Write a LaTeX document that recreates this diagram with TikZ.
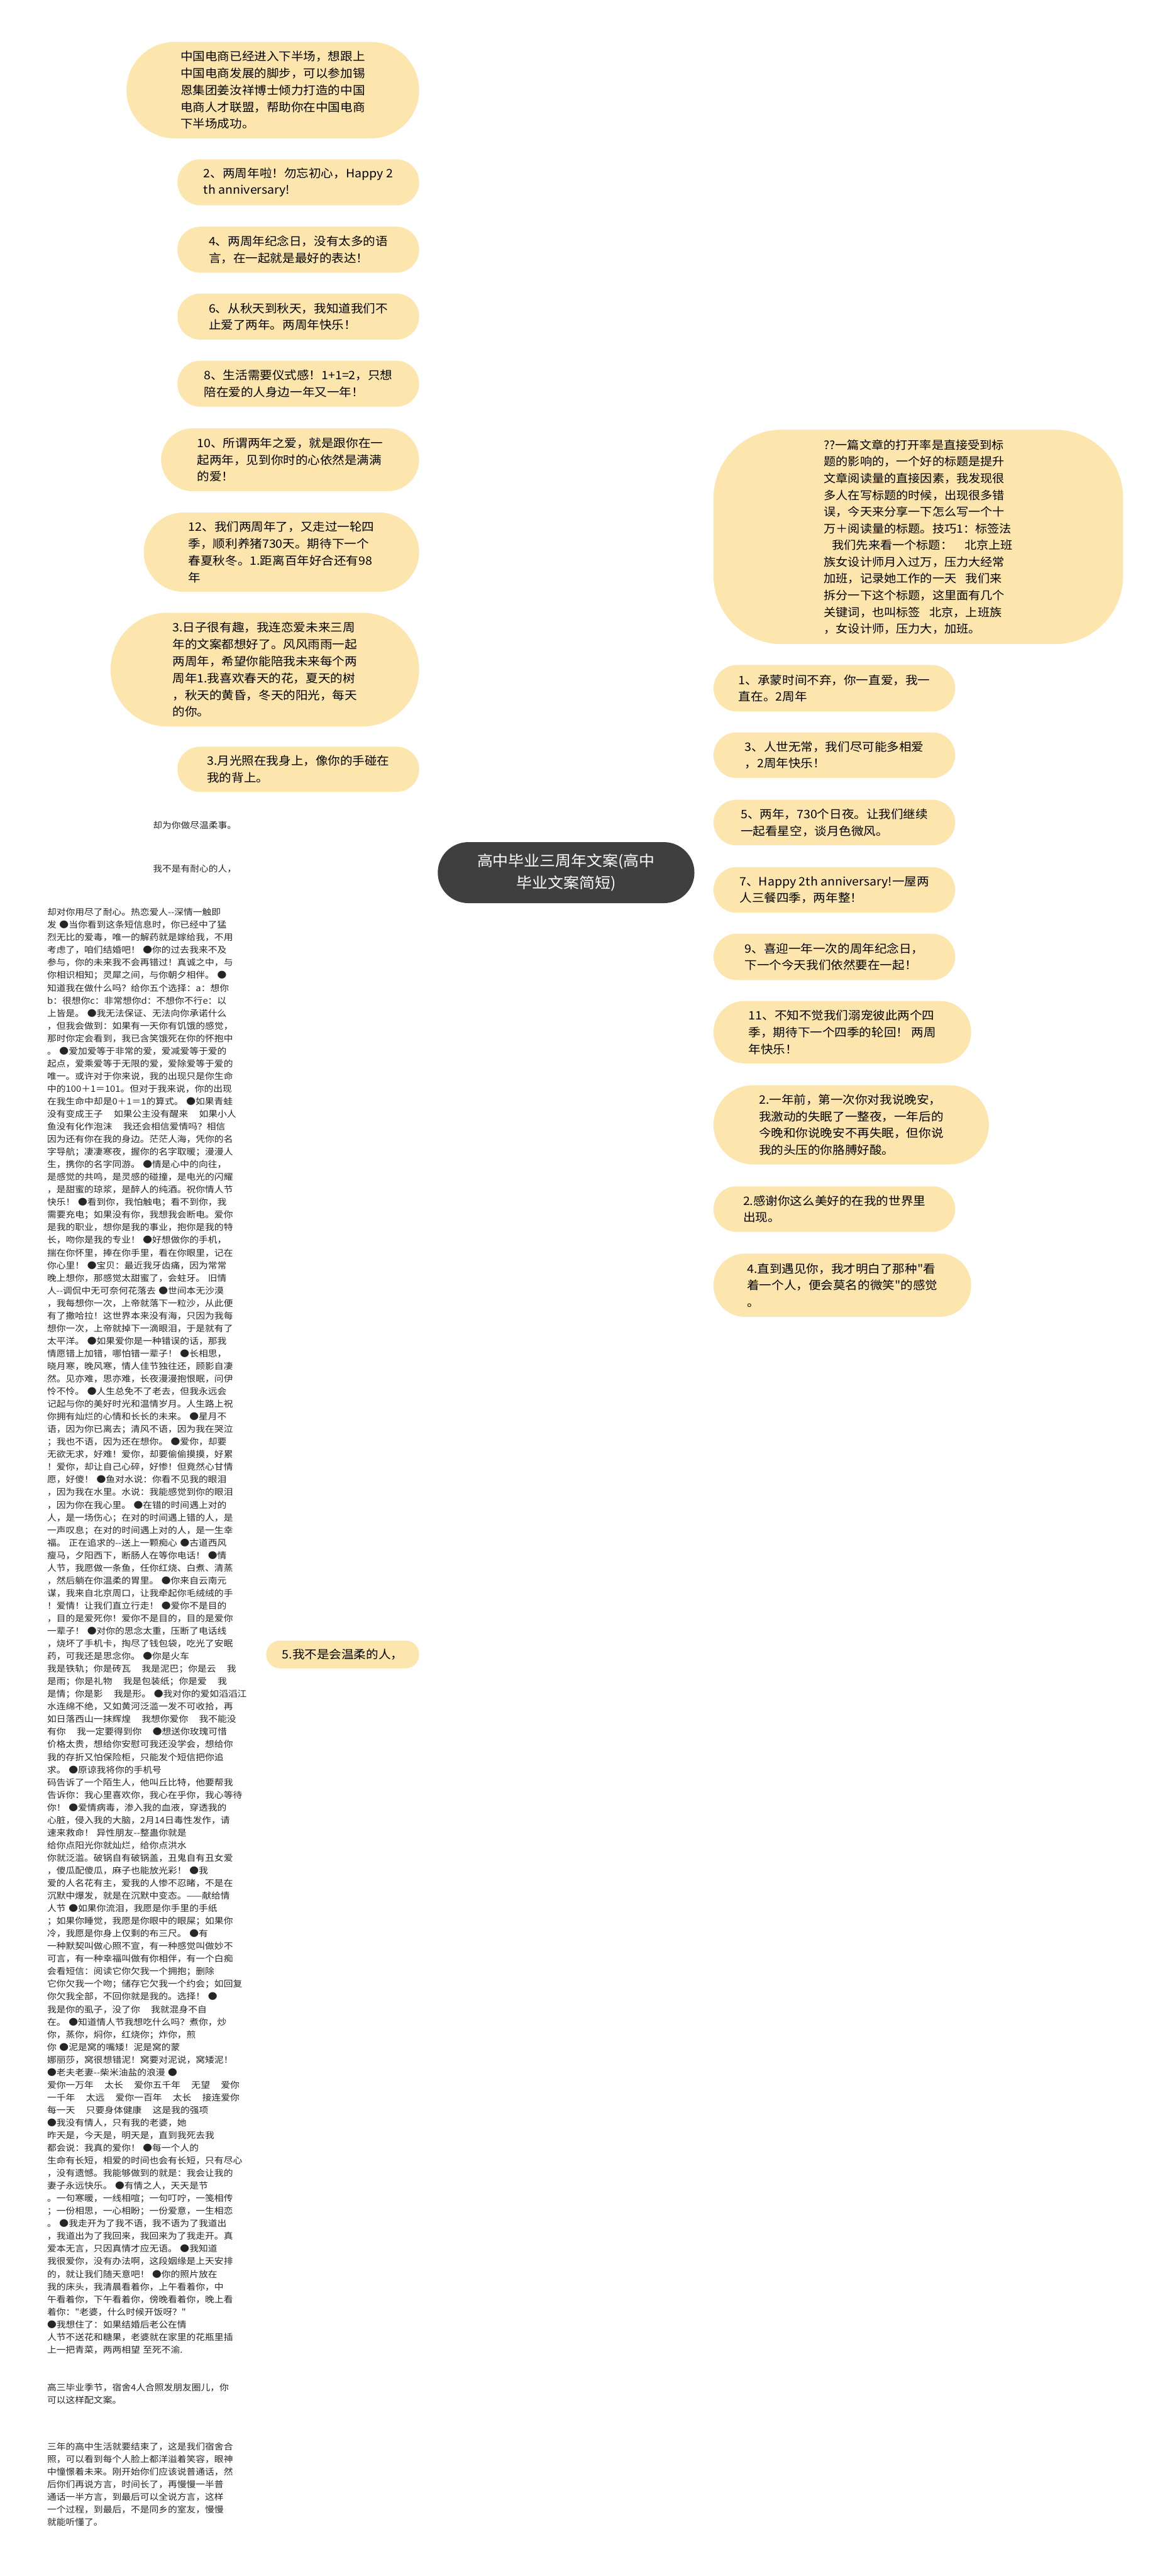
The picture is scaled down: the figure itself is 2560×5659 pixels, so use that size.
\documentclass[tikz,border=0pt]{standalone}
\usepackage{fontspec}
\newfontfamily\cjkA{Noto Sans CJK SC}[FakeStretch=1.06]
\newfontfamily\cjkB{Noto Sans CJK SC}[FakeStretch=1.074]
\usetikzlibrary{calc,backgrounds}
\definecolor{leaf}{HTML}{FDE6AE}
\definecolor{ctr}{HTML}{3F3F3F}
\definecolor{ln}{HTML}{333333}
\newcommand\dd{-\kern0pt-}
\newcommand\gp{\hspace*{24pt}}
\tikzset{
  conn/.style={draw=ln, line width=3pt},
  leafbox/.style={fill=leaf, draw=none, align=left, inner sep=0pt,
    font=\cjkA\fontsize{25.5}{37}\selectfont, text=black},
  ctrbox/.style={fill=ctr, draw=none, align=center, inner sep=0pt,
    font=\cjkA\fontsize{32.5}{48}\selectfont, text=white},
  shorttext/.style={inner xsep=25pt, inner ysep=4pt,
    font=\cjkB\fontsize{19}{27.7}\selectfont, text=black!85},
  longtext/.style={align=left, text width=441pt, inner sep=0pt,
    font=\cjkB\fontsize{19}{27.7}\selectfont, text=black!85}
}
\newcommand\qconn[2]{%
  \coordinate (qq) at (#1 |- #2);
  \draw[conn] (#1) .. controls ($(#1)!0.6667!(qq)$) and ($(#2)!0.6667!(qq)$) .. (#2);}
\begin{document}
\begin{tikzpicture}[x=1pt,y=-1pt]
\useasboundingbox (0,0) rectangle (2560,5659);
\fill[white] (0,0) rectangle (2560,5659);

% centre
\node[ctrbox, minimum width=564pt, minimum height=134pt, rounded corners=67pt] (c) at (1244,1917)
  {高中毕业三周年文案(高中\\毕业文案简短)};

% left branch nodes
\node[leafbox, minimum width=643pt, minimum height=212pt, rounded corners=106pt] (n1) at (599.5,198)
  {中国电商已经进入下半场，想跟上\\中国电商发展的脚步，可以参加锡\\恩集团姜汝祥博士倾力打造的中国\\电商人才联盟，帮助你在中国电商\\下半场成功。};
\node[leafbox, minimum width=531pt, minimum height=101pt, rounded corners=50pt] (n2) at (655.5,400.5)
  {2、两周年啦！勿忘初心，Happy 2\\th anniversary!};
\node[leafbox, minimum width=531pt, minimum height=101pt, rounded corners=50pt] (n4) at (655.5,548.5)
  {4、两周年纪念日，没有太多的语\\言，在一起就是最好的表达！};
\node[leafbox, minimum width=531pt, minimum height=101pt, rounded corners=50pt] (n6) at (655.5,695.5)
  {6、从秋天到秋天，我知道我们不\\止爱了两年。两周年快乐！};
\node[leafbox, minimum width=531pt, minimum height=101pt, rounded corners=50pt] (n8) at (655.5,843)
  {8、生活需要仪式感！1+1=2，只想\\陪在爱的人身边一年又一年！};
\node[leafbox, minimum width=567pt, minimum height=138pt, rounded corners=69pt] (n10) at (637.5,1010)
  {10、所谓两年之爱，就是跟你在一\\起两年，见到你时的心依然是满满\\的爱！};
\node[leafbox, minimum width=605pt, minimum height=174pt, rounded corners=87pt] (n12) at (618.5,1213)
  {12、我们两周年了，又走过一轮四\\季，顺利养猪730天。期待下一个\\春夏秋冬。1.距离百年好合还有98\\年};
\node[leafbox, minimum width=678pt, minimum height=250pt, rounded corners=125pt] (n3a) at (582,1471)
  {3.日子很有趣，我连恋爱未来三周\\年的文案都想好了。风风雨雨一起\\两周年，希望你能陪我未来每个两\\周年1.我喜欢春天的花，夏天的树\\，秋天的黄昏，冬天的阳光，每天\\的你。};
\node[leafbox, minimum width=531pt, minimum height=99pt, rounded corners=49pt] (n3b) at (655.5,1690)
  {3.月光照在我身上，像你的手碰在\\我的背上。};

% right branch nodes
\node[leafbox, minimum width=900pt, minimum height=471pt, rounded corners=150pt,
  font=\cjkA\fontsize{25}{36.7}\selectfont] (rb) at (2018,1179.5)
  {??一篇文章的打开率是直接受到标\\题的影响的，一个好的标题是提升\\文章阅读量的直接因素，我发现很\\多人在写标题的时候，出现很多错\\误，今天来分享一下怎么写一个十\\万＋阅读量的标题。技巧1：标签法\\\hspace*{18pt}我们先来看一个标题：\hspace{26pt}北京上班\\族女设计师月入过万，压力大经常\\加班，记录她工作的一天\hspace{20pt}我们来\\拆分一下这个标题，这里面有几个\\关键词，也叫标签\hspace{20pt}北京，上班族\\，女设计师，压力大，加班。};
\node[leafbox, minimum width=531pt, minimum height=102pt, rounded corners=51pt] (r1) at (1833.5,1512)
  {1、承蒙时间不弃，你一直爱，我一\\直在。2周年};
\node[leafbox, minimum width=531pt, minimum height=100pt, rounded corners=50pt] (r3) at (1833.5,1659)
  {3、人世无常，我们尽可能多相爱\\，2周年快乐！};
\node[leafbox, minimum width=531pt, minimum height=100pt, rounded corners=50pt] (r5) at (1833.5,1807)
  {5、两年，730个日夜。让我们继续\\一起看星空，谈月色微风。};
\node[leafbox, minimum width=531pt, minimum height=100pt, rounded corners=50pt] (r7) at (1833.5,1955)
  {7、Happy 2th anniversary!一屋两\\人三餐四季，两年整！};
\node[leafbox, minimum width=531pt, minimum height=102pt, rounded corners=51pt] (r9) at (1833.5,2102)
  {9、喜迎一年一次的周年纪念日，\\下一个今天我们依然要在一起！};
\node[leafbox, minimum width=566pt, minimum height=137pt, rounded corners=68pt] (r11) at (1851,2267.5)
  {11、不知不觉我们溺宠彼此两个四\\季，期待下一个四季的轮回！ 两周\\年快乐！};
\node[leafbox, minimum width=605pt, minimum height=174pt, rounded corners=87pt] (r2) at (1870.5,2471)
  {2.一年前，第一次你对我说晚安，\\我激动的失眠了一整夜，一年后的\\今晚和你说晚安不再失眠，但你说\\我的头压的你胳膊好酸。};
\node[leafbox, minimum width=531pt, minimum height=100pt, rounded corners=50pt] (r2b) at (1833.5,2656)
  {2.感谢你这么美好的在我的世界里\\出现。};
\node[leafbox, minimum width=566pt, minimum height=139pt, rounded corners=69pt] (r4) at (1851,2823.5)
  {4.直到遇见你，我才明白了那种"看\\着一个人，便会莫名的微笑"的感觉\\。};

% lower left branch
\node[leafbox, minimum width=336pt, minimum height=61pt, rounded corners=30pt] (n5) at (753,3634.5)
  {5.我不是会温柔的人，};
\coordinate (j5) at (562,3634.5);

\node[shorttext, anchor=east] (k1) at (545,1813) {却为你做尽温柔事。};
\node[shorttext, anchor=east] (k2) at (545,1908) {我不是有耐心的人，};
\node[longtext, anchor=east] (k3) at (545,3583) {却对你用尽了耐心。热恋爱人\dd 深情一触即\\发 ●当你看到这条短信息时，你已经中了猛\\烈无比的爱毒，唯一的解药就是嫁给我，不用\\考虑了，咱们结婚吧！ ●你的过去我来不及\\参与，你的未来我不会再错过！真诚之中，与\\你相识相知；灵犀之间，与你朝夕相伴。 ●\\知道我在做什么吗？给你五个选择：a：想你\\b：很想你c：非常想你d：不想你不行e：以\\上皆是。 ●我无法保证、无法向你承诺什么\\，但我会做到：如果有一天你有饥饿的感觉，\\那时你定会看到，我已含笑饿死在你的怀抱中\\。 ●爱加爱等于非常的爱，爱减爱等于爱的\\起点，爱乘爱等于无限的爱，爱除爱等于爱的\\唯一。或许对于你来说，我的出现只是你生命\\中的100＋1＝101。但对于我来说，你的出现\\在我生命中却是0＋1＝1的算式。 ●如果青蛙\\没有变成王子\gp 如果公主没有醒来\gp 如果小人\\鱼没有化作泡沫\gp 我还会相信爱情吗？相信\\因为还有你在我的身边。茫茫人海，凭你的名\\字导航；凄凄寒夜，握你的名字取暖；漫漫人\\生，携你的名字同游。 ●情是心中的向往，\\是感觉的共鸣，是灵感的碰撞，是电光的闪耀\\，是甜蜜的琼浆，是醉人的纯酒。祝你情人节\\快乐！ ●看到你，我怕触电；看不到你，我\\需要充电；如果没有你，我想我会断电。爱你\\是我的职业，想你是我的事业，抱你是我的特\\长，吻你是我的专业！ ●好想做你的手机，\\揣在你怀里，捧在你手里，看在你眼里，记在\\你心里！ ●宝贝：最近我牙齿痛，因为常常\\晚上想你，那感觉太甜蜜了，会蛀牙。 旧情\\人\dd 调侃中无可奈何花落去 ●世间本无沙漠\\，我每想你一次，上帝就落下一粒沙，从此便\\有了撒哈拉！这世界本来没有海，只因为我每\\想你一次，上帝就掉下一滴眼泪，于是就有了\\太平洋。 ●如果爱你是一种错误的话，那我\\情愿错上加错，哪怕错一辈子！ ●长相思，\\晓月寒，晚风寒，情人佳节独往还，顾影自凄\\然。见亦难，思亦难，长夜漫漫抱恨眠，问伊\\怜不怜。 ●人生总免不了老去，但我永远会\\记起与你的美好时光和温情岁月。人生路上祝\\你拥有灿烂的心情和长长的未来。 ●星月不\\语，因为你已离去；清风不语，因为我在哭泣\\；我也不语，因为还在想你。 ●爱你，却要\\无欲无求，好难！爱你，却要偷偷摸摸，好累\\！爱你，却让自己心碎，好惨！但竟然心甘情\\愿，好傻！ ●鱼对水说：你看不见我的眼泪\\，因为我在水里。水说：我能感觉到你的眼泪\\，因为你在我心里。 ●在错的时间遇上对的\\人，是一场伤心；在对的时间遇上错的人，是\\一声叹息；在对的时间遇上对的人，是一生幸\\福。 正在追求的\dd 送上一颗痴心 ●古道西风\\瘦马，夕阳西下，断肠人在等你电话！ ●情\\人节，我愿做一条鱼，任你红烧、白煮、清蒸\\，然后躺在你温柔的胃里。 ●你来自云南元\\谋，我来自北京周口，让我牵起你毛绒绒的手\\！爱情！让我们直立行走！ ●爱你不是目的\\，目的是爱死你！爱你不是目的，目的是爱你\\一辈子！ ●对你的思念太重，压断了电话线\\，烧坏了手机卡，掏尽了钱包袋，吃光了安眠\\药，可我还是思念你。 ●你是火车\\我是铁轨；你是砖瓦\gp 我是泥巴；你是云\gp 我\\是雨；你是礼物\gp 我是包装纸；你是爱\gp 我\\是情；你是影\gp 我是形。 ●我对你的爱如滔滔江\\水连绵不绝，又如黄河泛滥一发不可收拾，再\\如日落西山一抹辉煌\gp 我想你爱你\gp 我不能没\\有你\gp 我一定要得到你\gp ●想送你玫瑰可惜\\价格太贵，想给你安慰可我还没学会，想给你\\我的存折又怕保险柜，只能发个短信把你追\\求。 ●原谅我将你的手机号\\码告诉了一个陌生人，他叫丘比特，他要帮我\\告诉你：我心里喜欢你，我心在乎你，我心等待\\你！ ●爱情病毒，渗入我的血液，穿透我的\\心脏，侵入我的大脑，2月14日毒性发作，请\\速来救命！ 异性朋友\dd 整蛊你就是\\给你点阳光你就灿烂，给你点洪水\\你就泛滥。破锅自有破锅盖，丑鬼自有丑女爱\\，傻瓜配傻瓜，麻子也能放光彩！ ●我\\爱的人名花有主，爱我的人惨不忍睹，不是在\\沉默中爆发，就是在沉默中变态。——献给情\\人节 ●如果你流泪，我愿是你手里的手纸\\；如果你睡觉，我愿是你眼中的眼屎；如果你\\冷，我愿是你身上仅剩的布三尺。 ●有\\一种默契叫做心照不宣，有一种感觉叫做妙不\\可言，有一种幸福叫做有你相伴，有一个白痴\\会看短信：阅读它你欠我一个拥抱；删除\\它你欠我一个吻；储存它欠我一个约会；如回复\\你欠我全部，不回你就是我的。选择！ ●\\我是你的虱子，没了你\gp 我就混身不自\\在。 ●知道情人节我想吃什么吗？煮你，炒\\你，蒸你，焖你，红烧你；炸你，煎\\你 ●泥是窝的嘴矮！泥是窝的蒙\\娜丽莎，窝很想错泥！窝要对泥说，窝矮泥！\\●老夫老妻\dd 柴米油盐的浪漫 ●\\爱你一万年\gp 太长\gp 爱你五千年\gp 无望\gp 爱你\\一千年\gp 太远\gp 爱你一百年\gp 太长\gp 接连爱你\\每一天\gp 只要身体健康\gp 这是我的强项\\●我没有情人，只有我的老婆，她\\昨天是，今天是，明天是，直到我死去我\\都会说：我真的爱你！ ●每一个人的\\生命有长短，相爱的时间也会有长短，只有尽心\\，没有遗憾。我能够做到的就是：我会让我的\\妻子永远快乐。 ●有情之人，天天是节\\。一句寒暖，一线相喧；一句叮咛，一笺相传\\；一份相思，一心相盼；一份爱意，一生相恋\\。 ●我走开为了我不语，我不语为了我道出\\，我道出为了我回来，我回来为了我走开。真\\爱本无言，只因真情才应无语。 ●我知道\\我很爱你，没有办法啊，这段姻缘是上天安排\\的，就让我们随天意吧！ ●你的照片放在\\我的床头，我清晨看着你，上午看着你，中\\午看着你，下午看着你，傍晚看着你，晚上看\\着你："老婆，什么时候开饭呀？"\\●我想住了：如果结婚后老公在情\\人节不送花和糖果，老婆就在家里的花瓶里插\\上一把青菜，两两相望 至死不渝.};
\node[longtext, anchor=east] (k4) at (545,5259) {高三毕业季节，宿舍4人合照发朋友圈儿，你\\可以这样配文案。};
\node[longtext, anchor=east] (k5) at (545,5458) {三年的高中生活就要结束了，这是我们宿舍合\\照，可以看到每个人脸上都洋溢着笑容，眼神\\中憧憬着未来。刚开始你们应该说普通话，然\\后你们再说方言，时间长了，再慢慢一半普\\通话一半方言，到最后可以全说方言，这样\\一个过程，到最后，不是同乡的室友，慢慢\\就能听懂了。};

% connectors
\begin{scope}[on background layer]
  \foreach \t in {n1,n2,n4,n6,n8,n10,n12,n3a,n3b,n5} {\qconn{c.center}{\t.east}}
  \foreach \t in {rb,r1,r3,r5,r7,r9,r11,r2,r2b,r4} {\qconn{c.center}{\t.west}}
  \draw[conn] (n5.west) -- (j5);
  \foreach \t in {k1,k2,k3,k4,k5} {\qconn{j5}{\t.east}}
\end{scope}
\end{tikzpicture}
\end{document}
